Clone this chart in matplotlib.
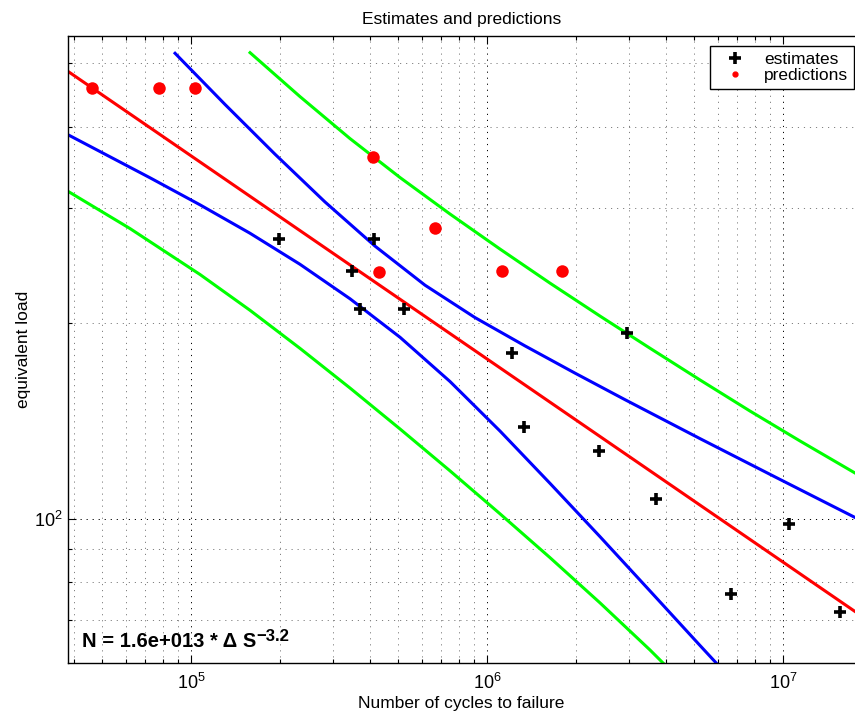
import matplotlib
matplotlib.use('Agg')
import matplotlib.pyplot as plt
from matplotlib.lines import Line2D
from matplotlib.ticker import LogLocator, NullFormatter

plt.rcParams['font.family'] = ['Liberation Sans', 'DejaVu Sans']
plt.rcParams['mathtext.fontset'] = 'custom'
plt.rcParams['mathtext.rm'] = 'Liberation Sans'
plt.rcParams['mathtext.bf'] = 'Liberation Sans:bold'
plt.rcParams['mathtext.it'] = 'Liberation Sans:italic'

# ---- data ----
# estimates (black +)
est_cycles = [1.98e5, 4.15e5, 3.48e5, 3.70e5, 5.24e5, 1.215e6, 1.334e6,
              2.385e6, 2.957e6, 3.706e6, 6.643e6, 1.045e7, 1.554e7]
est_load = [269, 269, 240, 210, 210, 180, 138.7, 127.3, 192.9, 107.4, 76.9, 98.3, 72.1]

# predictions (red dots)
pred_cycles = [4.63e4, 7.78e4, 1.029e5, 4.10e5, 4.32e5, 6.67e5, 1.124e6, 1.792e6]
pred_load = [458, 458, 458, 359, 239, 279.5, 240, 240]

# fitted S-N curve (red), N = 1.6e13 * S^-3.2
fit_cycles = [3.84e4, 1.747e7]
fit_load = [485.9, 72.17]

# confidence band (blue)
ci_up_cycles = [8.810e4, 1.300e5, 1.918e5, 2.829e5, 4.175e5, 6.160e5, 9.088e5,
                1.341e6, 1.978e6, 2.919e6, 5.232e6, 9.375e6, 1.747e7]
ci_up_load = [518.4, 432.6, 362.9, 306.6, 262.3, 228.5, 203.8,
              184.4, 167.5, 152.5, 132.9, 116.1, 100.6]
ci_lo_cycles = [3.842e4, 7.254e4, 1.070e5, 1.579e5, 2.329e5, 3.437e5, 5.072e5,
                7.482e5, 1.104e6, 1.628e6, 2.403e6, 3.545e6, 5.232e6, 6.112e6]
ci_lo_load = [388.5, 333.9, 303.5, 274.5, 246.0, 217.8, 190.1,
              162.6, 136.5, 113.5, 94.0, 77.6, 64.0, 59.3]

# prediction band (green)
pi_up_cycles = [1.579e5, 2.329e5, 3.437e5, 5.072e5, 7.482e5, 1.104e6, 1.628e6,
                2.403e6, 3.545e6, 5.232e6, 7.718e6, 1.139e7, 1.747e7]
pi_up_load = [519.5, 444.8, 383.5, 334.2, 293.8, 259.6, 230.2,
              204.9, 182.9, 163.5, 146.5, 131.8, 117.7]
pi_lo_cycles = [3.842e4, 6.207e4, 1.070e5, 1.579e5, 2.329e5, 3.437e5, 5.072e5,
                7.482e5, 1.104e6, 1.628e6, 2.403e6, 3.545e6, 4.143e6]
pi_lo_load = [318.1, 279.1, 237.3, 209.1, 182.8, 158.9, 137.5,
              118.6, 101.9, 87.3, 74.4, 63.0, 58.7]

x_lim = (3.84e4, 1.747e7)
y_lim = (60.1, 551)

fs = 12.5

fig = plt.figure(figsize=(8.55, 7.15), dpi=100)
ax = fig.add_axes([68.3 / 855, 51.7 / 715, 786.7 / 855, 627.3 / 715])
ax.set_xscale('log')
ax.set_yscale('log')

lw = 2.2
ax.plot(fit_cycles, fit_load, color=(1, 0, 0), lw=lw)
ax.plot(ci_up_cycles, ci_up_load, color=(0, 0, 1), lw=lw)
ax.plot(ci_lo_cycles, ci_lo_load, color=(0, 0, 1), lw=lw)
ax.plot(pi_up_cycles, pi_up_load, color=(0, 1, 0), lw=lw)
ax.plot(pi_lo_cycles, pi_lo_load, color=(0, 1, 0), lw=lw)

ax.plot(est_cycles, est_load, linestyle='none', marker='+', color='k',
        markersize=8, markeredgewidth=2.6, zorder=5)
ax.plot(pred_cycles, pred_load, linestyle='none', marker='o', color=(1, 0, 0),
        markersize=9, markeredgewidth=0, zorder=5)

ax.set_xlim(*x_lim)
ax.set_ylim(*y_lim)

ax.xaxis.set_major_locator(LogLocator(base=10))
ax.xaxis.set_minor_locator(LogLocator(base=10, subs=range(2, 10)))
ax.yaxis.set_major_locator(LogLocator(base=10))
ax.yaxis.set_minor_locator(LogLocator(base=10, subs=range(2, 10)))
ax.xaxis.set_minor_formatter(NullFormatter())
ax.yaxis.set_minor_formatter(NullFormatter())

ax.grid(which='major', color='k', linestyle=(0, (1.2, 5)), linewidth=0.7)
ax.grid(which='minor', color='0.5', linestyle=(0, (1.2, 5)), linewidth=0.7)

ax.tick_params(which='both', direction='in', top=True, right=False,
               labelsize=13, width=0.8)
ax.tick_params(which='major', length=6)
ax.tick_params(axis='x', which='major', pad=7)
ax.tick_params(axis='y', which='major', pad=4)
ax.tick_params(which='minor', length=3)
ax.spines['right'].set_visible(False)
for s in ['left', 'top', 'bottom']:
    ax.spines[s].set_linewidth(1.0)

ax.set_xlabel('Number of cycles to failure', fontsize=fs, labelpad=2)
ax.set_ylabel('equivalent load', fontsize=fs)
ax.yaxis.set_label_coords(-0.047, 0.5)
ax.set_title('Estimates and predictions', fontsize=fs, pad=9)

# fitted law, exponent drawn as a raised bold text
eq = ax.text(0.017, 0.026, 'N = 1.6e+013 * \u0394 S', transform=ax.transAxes,
             fontsize=14.5, fontweight='bold', va='baseline')
ax.annotate('\u22123.2', xy=(1, 0), xycoords=eq, xytext=(0.5, 7.5),
            textcoords='offset points', fontsize=12, fontweight='bold',
            va='baseline', ha='left')

handles = [Line2D([], [], linestyle='none', marker='+', color='k', markersize=8,
                  markeredgewidth=2.6),
           Line2D([], [], linestyle='none', marker='.', color=(1, 0, 0), markersize=7)]
leg = ax.legend(handles, ['estimates', 'predictions'], loc='upper right',
                bbox_to_anchor=(0.999, 0.984), borderaxespad=0, fontsize=fs,
                fancybox=False, framealpha=1, edgecolor='k', borderpad=0.35,
                labelspacing=0.05, handlelength=2.18, handletextpad=0.58)
leg.get_frame().set_linewidth(1.0)

fig.savefig('out.png', dpi=100)
